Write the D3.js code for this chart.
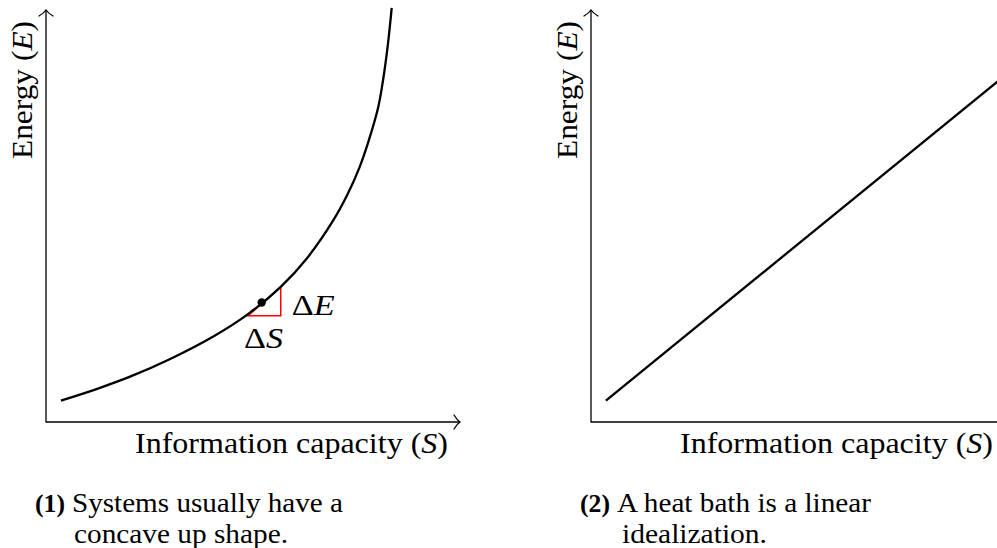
<!DOCTYPE html>
<html><head><meta charset="utf-8">
<script src="https://cdn.jsdelivr.net/npm/d3@7"></script>
<style>
body{margin:0;background:#fff;overflow:hidden}
svg{display:block}
text{font-family:"Liberation Serif","Times New Roman",serif;fill:#000}
</style>
</head><body><svg id="c" width="997" height="548"></svg>
<script>
// ---- data (abstract units: S = information capacity, E = energy) ----
const curveS = [0.36, 1.22, 2.03, 3.00, 4.03, 4.88, 5.67, 6.30, 6.93, 7.29, 7.58, 7.78, 8.02, 8.14, 8.26, 8.35];
const curveE = [0.52, 0.80, 1.10, 1.53, 2.07, 2.62, 3.28, 3.97, 4.88, 5.54, 6.20, 6.78, 7.62, 8.29, 9.18, 10.05];
const markerS = [5.21];
const markerE = [2.90];
const triangleS = [4.88, 5.67, 5.67];
const triangleE = [2.58, 3.28, 2.58];
const bathS = [0.36, 10.0];
const bathE = [0.52, 8.41];
const axisDomain = [0, 10];
const xLabel = ["Information capacity (", "S", ")"];
const yLabel = ["Energy (", "E", ")"];
const captions = [
  {num: "(1)", line1: "Systems usually have a", line2: "concave up shape."},
  {num: "(2)", line1: "A heat bath is a linear", line2: "idealization."}
];

const svg = d3.select("#c");
const panelOffsets = [0, 545];

// scale the font so the natural width matches the target width, keeping glyph proportions
function fit(t, size, width, maxSize) {
  t.attr("font-size", size);
  const w = t.node().getComputedTextLength();
  let s = size * width / w;
  if (maxSize) s = Math.min(s, maxSize);
  t.attr("font-size", s);
  t.attr("textLength", width).attr("lengthAdjust", "spacingAndGlyphs");
  return t;
}

function mathText(g, parts, x, y, size, len, anchor, transform, maxSize) {
  const t = g.append("text")
    .attr("x", x).attr("y", y)
    .attr("text-anchor", anchor || "start");
  if (transform) t.attr("transform", transform);
  parts.forEach((p, i) => {
    t.append("tspan").text(p).attr("font-style", i === 1 ? "italic" : "normal");
  });
  fit(t, size, len, maxSize);
  return t;
}

panelOffsets.forEach((off, pi) => {
  const x = d3.scaleLinear().domain(axisDomain).range([46 + off, 460 + off]);
  const y = d3.scaleLinear().domain(axisDomain).range([422, 10]);
  const g = svg.append("g");

  // axes
  g.append("line").attr("x1", x(0)).attr("y1", y(0)).attr("x2", x(10)).attr("y2", y(0))
    .attr("stroke", "#000").attr("stroke-width", 1.3);
  g.append("line").attr("x1", x(0)).attr("y1", y(0) + 0.6).attr("x2", x(0)).attr("y2", y(10))
    .attr("stroke", "#000").attr("stroke-width", 1.3);
  // arrow heads
  const ax = x(10), ay = y(0);
  g.append("path").attr("d", `M${ax-6},${ay-7} Q${ax-3},${ay-2} ${ax},${ay} Q${ax-3},${ay+2} ${ax-6},${ay+7}`)
    .attr("fill", "none").attr("stroke", "#000").attr("stroke-width", 1.3).attr("stroke-linecap", "round");
  const bx = x(0), by = y(10);
  g.append("path").attr("d", `M${bx-7},${by+6} Q${bx-2},${by+3} ${bx},${by} Q${bx+2},${by+3} ${bx+7},${by+6}`)
    .attr("fill", "none").attr("stroke", "#000").attr("stroke-width", 1.3).attr("stroke-linecap", "round");

  // axis labels
  mathText(g, xLabel, x(0) + 89, 453, 27, 313, "start", null, 30);
  const lx = x(0) - 14, ly = 21;
  mathText(g, yLabel, 0, 0, 27, 138, "end", `translate(${lx},${ly}) rotate(-90)`, 30);

  // captions
  const c = captions[pi];
  const cx = x(0) - 11;
  const n = g.append("text").attr("x", cx).attr("y", 512).attr("font-weight", "bold").text(c.num);
  fit(n, 24, 30, 27);
  const l1 = g.append("text").attr("x", cx + 37).attr("y", 512).text(c.line1);
  fit(l1, 24, pi === 0 ? 271 : 254, 27);
  const l2 = g.append("text").attr("x", cx + (pi === 0 ? 39 : 42)).attr("y", 543).text(c.line2);
  fit(l2, 24, pi === 0 ? 214 : 145, 27);

  if (pi === 0) {
    const pts = curveS.map((s, i) => [s, curveE[i]]);
    const line = d3.line().x(d => x(d[0])).y(d => y(d[1])).curve(d3.curveCatmullRom.alpha(0.5));
    const tri = triangleS.map((s, i) => [s, triangleE[i]]);
    g.append("path").attr("d", d3.line().x(d => x(d[0])).y(d => y(d[1]))(tri) + "Z")
      .attr("fill", "none").attr("stroke", "#ff0000").attr("stroke-width", 1.5);
    g.append("path").attr("d", line(pts))
      .attr("fill", "none").attr("stroke", "#000").attr("stroke-width", 2.3);
    g.append("circle").attr("cx", x(markerS[0])).attr("cy", y(markerE[0])).attr("r", 4.2).attr("fill", "#000");
    mathText(g, ["Δ", "E", ""], x(triangleS[1]) + 11, 315, 27, 43, "start", null, 30);
    mathText(g, ["Δ", "S", ""], x(triangleS[0]) - 4, 348, 27, 39, "start", null, 30);
  } else {
    const pts = bathS.map((s, i) => [s, bathE[i]]);
    const line = d3.line().x(d => x(d[0])).y(d => y(d[1]));
    g.append("path").attr("d", line(pts))
      .attr("fill", "none").attr("stroke", "#000").attr("stroke-width", 2.3);
  }
});
</script>
</body></html>
